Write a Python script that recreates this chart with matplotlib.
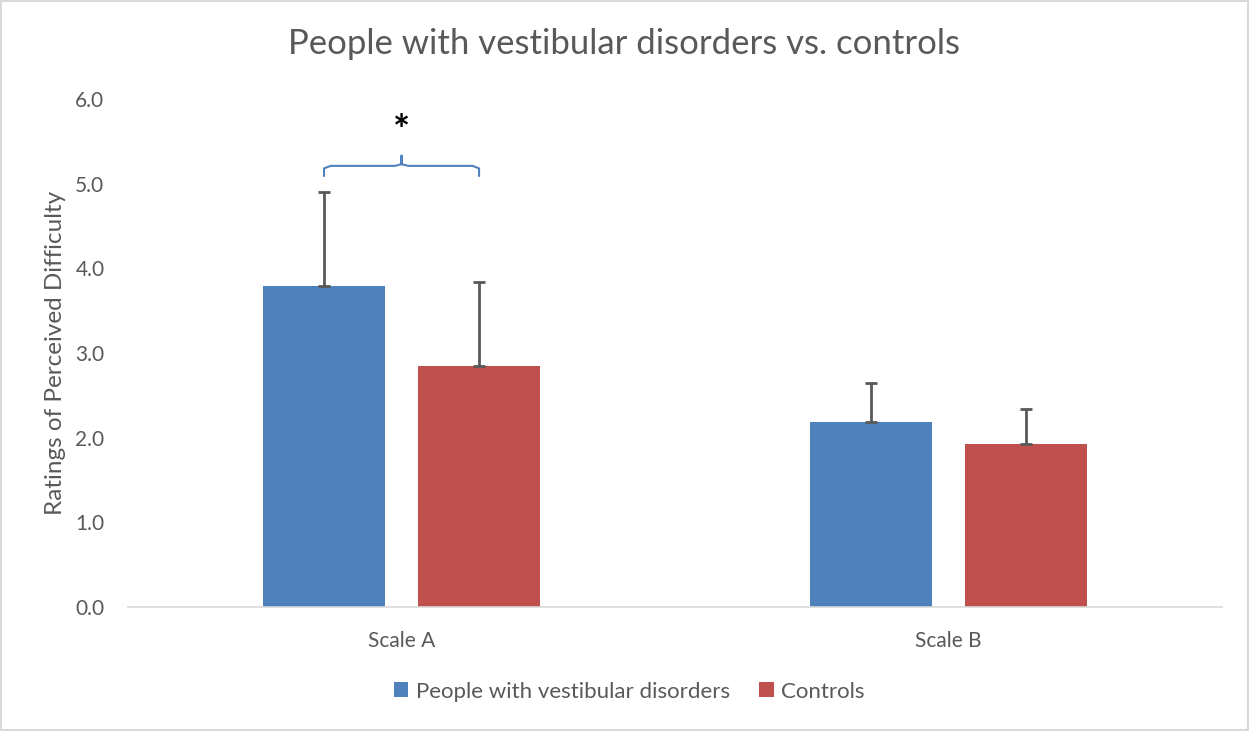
import matplotlib
matplotlib.use("Agg")
import matplotlib.pyplot as plt
from matplotlib.patches import Rectangle
import numpy as np

plt.rcParams['font.family'] = ['Lato', 'DejaVu Sans']

# chart data
categories = ["Scale A", "Scale B"]
series_names = ["People with vestibular disorders", "Controls"]
vestibular = [3.79, 2.19]
vestibular_err = [1.11, 0.46]
controls = [2.85, 1.93]
controls_err = [0.99, 0.41]
y_ticks = [0.0, 1.0, 2.0, 3.0, 4.0, 5.0, 6.0]

blue = "#4F81BD"
red = "#C0504D"
grey_text = "#595959"

fig = plt.figure(figsize=(12.49, 7.31), dpi=100)
ax = fig.add_axes([0.1025, 0.1696, 0.876, 0.695])

x = np.arange(len(categories))
width = 0.223
offset = 0.1417

ax.bar(x - offset, vestibular, width, color=blue, label=series_names[0], zorder=2)
ax.bar(x + offset, controls, width, color=red, label=series_names[1], zorder=2)

# upper error bars only
ax.errorbar(x - offset, vestibular, yerr=[np.zeros(len(x)), vestibular_err],
            fmt='none', ecolor=grey_text, elinewidth=2, capsize=4.5, capthick=2, zorder=3)
ax.errorbar(x + offset, controls, yerr=[np.zeros(len(x)), controls_err],
            fmt='none', ecolor=grey_text, elinewidth=2, capsize=4.5, capthick=2, zorder=3)

# significance bracket over Scale A
bx0, bx1 = x[0] - offset, x[0] + offset
by, bend, btip = 5.21, 5.09, 5.33
mid = x[0]
r = 0.012
ax.plot([bx0, bx0, bx0 + r, mid - r, mid, mid, mid, mid + r, bx1 - r, bx1, bx1],
        [bend, by - 0.03, by, by, by + 0.02, btip, by + 0.02, by, by, by - 0.03, bend],
        color=blue, lw=1.5, solid_joinstyle='round', solid_capstyle='round', zorder=3)
ax.text(mid, 5.6, "*", ha='center', va='center', fontsize=29, fontweight='bold', color='black')

ax.set_xlim(-0.5, 1.5)
ax.set_ylim(0, 6)
ax.set_yticks(y_ticks)
ax.set_yticklabels([f"{v:.1f}" for v in y_ticks])
ax.set_xticks(x)
ax.set_xticklabels(categories)
ax.tick_params(axis='both', length=0, labelsize=15, labelcolor=grey_text)
ax.tick_params(axis='x', pad=17)
ax.tick_params(axis='y', pad=17)

for side in ['top', 'right', 'left']:
    ax.spines[side].set_visible(False)
ax.spines['bottom'].set_color('#D9D9D9')
ax.spines['bottom'].set_linewidth(1.2)

ax.set_ylabel("Ratings of Perceived Difficulty", fontsize=17.5, color=grey_text, labelpad=7)

fig.suptitle("People with vestibular disorders vs. controls", x=0.5, y=0.962,
             fontsize=25, color=grey_text)

leg = fig.legend(loc='center', bbox_to_anchor=(0.504, 0.054), ncol=2, frameon=False,
                 fontsize=16, handlelength=0.65, handleheight=0.65, handletextpad=0.35,
                 columnspacing=1.3)
for t in leg.get_texts():
    t.set_color(grey_text)

# outer frame of the chart area
fig.patches.append(Rectangle((0.001, 0.001), 0.998, 0.997, transform=fig.transFigure,
                             fill=False, edgecolor='#D9D9D9', linewidth=1.5))

fig.savefig("out.png", dpi=100)
